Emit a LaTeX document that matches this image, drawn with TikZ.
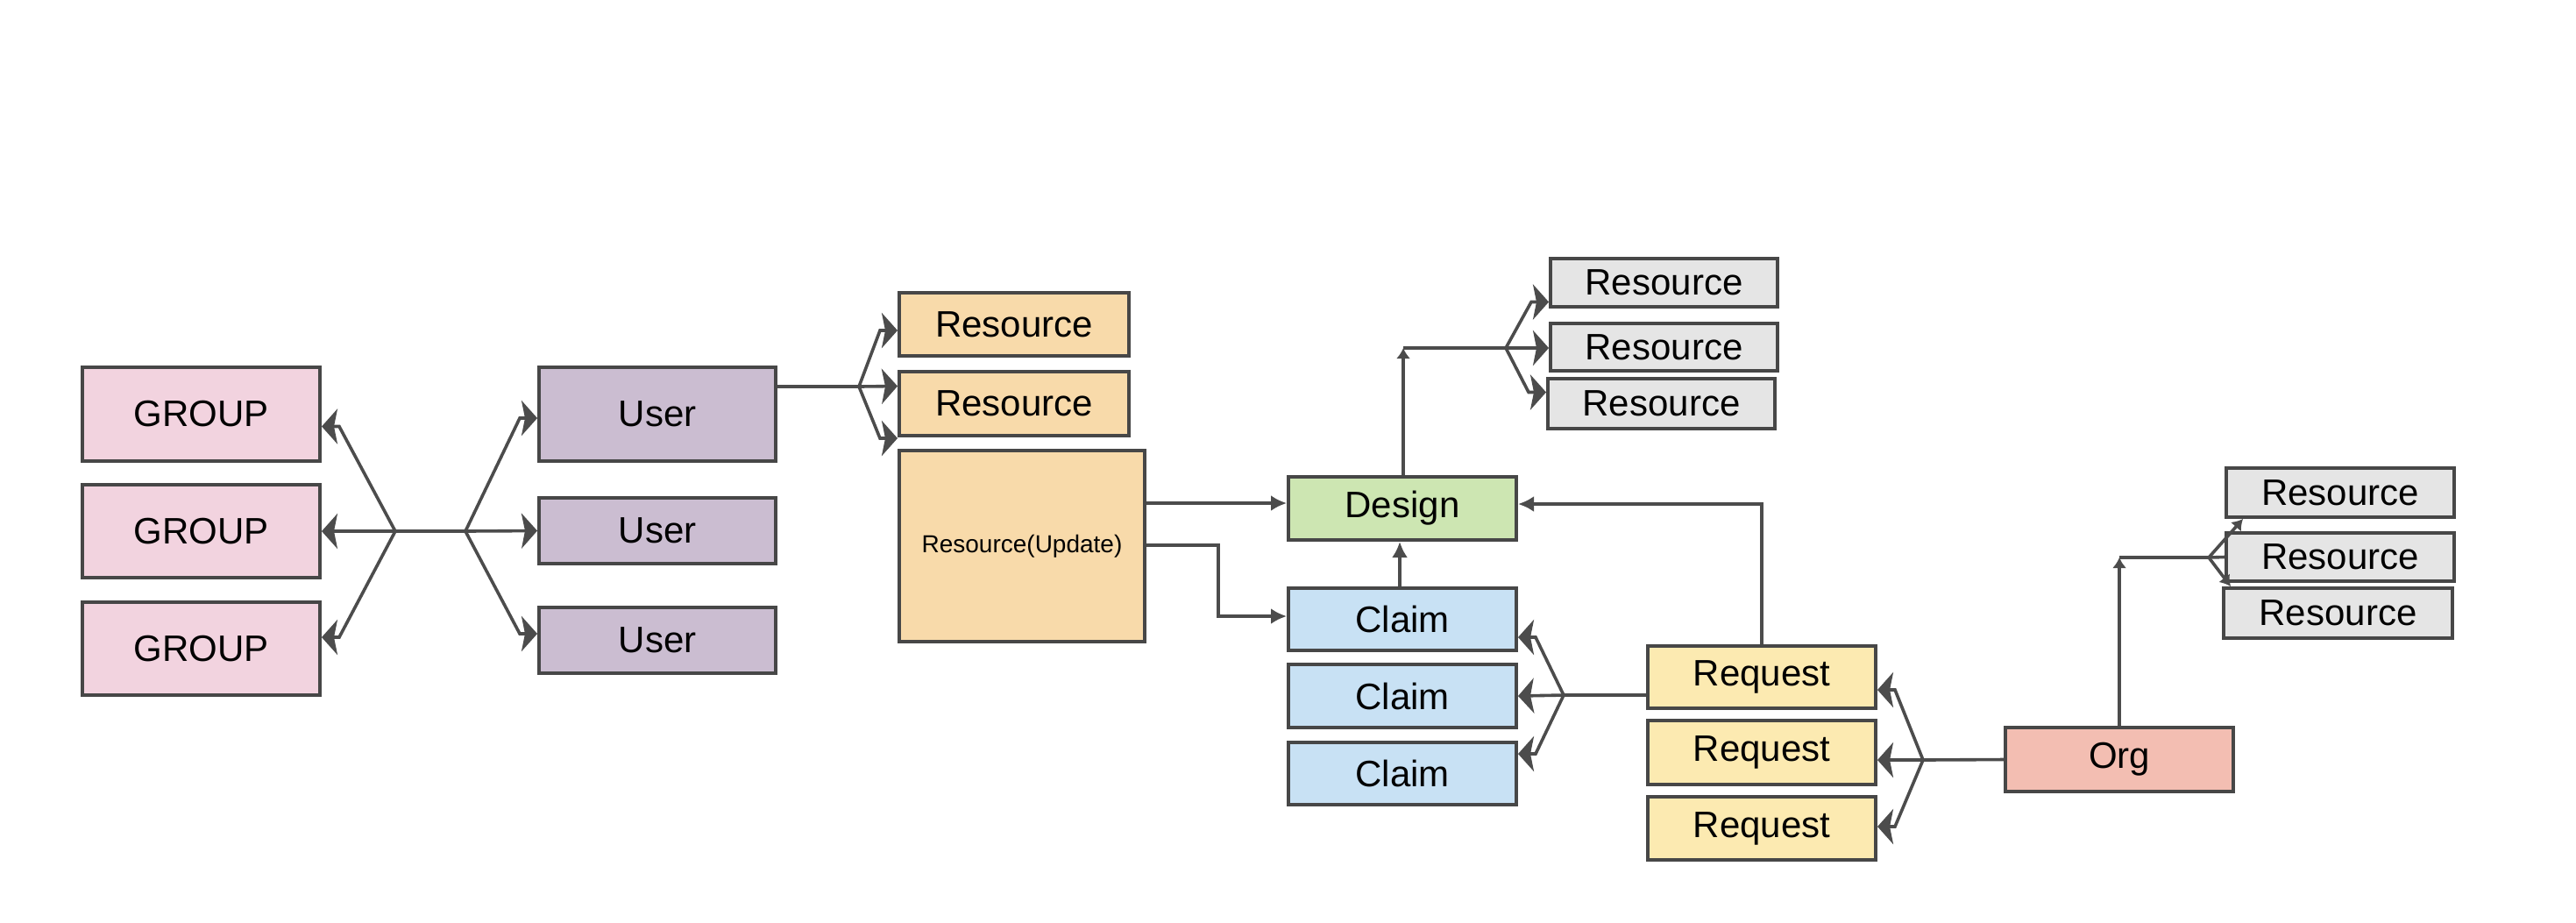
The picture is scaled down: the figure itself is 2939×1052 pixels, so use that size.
\documentclass[tikz,border=0pt]{standalone}
\usepackage{fontspec}
\setmainfont{Liberation Sans}
\usetikzlibrary{arrows.meta,calc}
\definecolor{cGroup}{RGB}{242,211,223}
\definecolor{cUser}{RGB}{203,189,209}
\definecolor{cRes}{RGB}{248,218,170}
\definecolor{cDesign}{RGB}{205,230,178}
\definecolor{cClaim}{RGB}{200,225,244}
\definecolor{cReq}{RGB}{252,234,177}
\definecolor{cOrg}{RGB}{243,190,178}
\definecolor{cGrey}{RGB}{229,229,229}
\begin{document}
\begin{tikzpicture}[x=0.25pt,y=-0.25pt,
 box/.style={draw=black!72, line width=1pt, inner sep=0pt, font=\fontsize{10.5}{12}\selectfont},
 wh/.style 2 args={minimum width=#1*0.25pt, minimum height=#2*0.25pt},
 ln/.style={draw=black!70, line width=0.9pt},
 farr/.style={ln, -{Stealth[length=4.5pt,width=10pt,inset=1pt]}},
 arr/.style={ln, -{Latex[length=4.5pt,width=4.5pt]}},
 sarr/.style={ln, -{Latex[length=3pt,width=4pt]}}]
\fill[white] (0,0) rectangle (2939,1052);
\useasboundingbox (0,0) rectangle (2939,1052);
% groups
\node[box,wh={271}{107},fill=cGroup] (G1) at (229.5,472.5) {GROUP};
\node[box,wh={271}{106},fill=cGroup] (G2) at (229.5,606) {GROUP};
\node[box,wh={271}{106},fill=cGroup] (G3) at (229.5,740) {GROUP};
% users
\node[box,wh={270}{107},fill=cUser] (U1) at (750,472.5) {User};
\node[box,wh={270}{75},fill=cUser] (U2) at (750,605.5) {User};
\node[box,wh={270}{75},fill=cUser] (U3) at (750,730.5) {User};
% orange resources
\node[box,wh={262}{72},fill=cRes] (OR1) at (1157,370) {Resource};
\node[box,wh={262}{73},fill=cRes] (OR2) at (1157,460.5) {Resource};
\node[box,wh={280}{218},fill=cRes,font=\fontsize{7}{8}\selectfont] (RU) at (1166,623) {Resource(Update)};
% design / claims
\node[box,wh={260}{72},fill=cDesign] (D) at (1600,580) {Design};
\node[box,wh={260}{71},fill=cClaim] (C1) at (1600,706.5) {Claim};
\node[box,wh={260}{72},fill=cClaim] (C2) at (1600,794) {Claim};
\node[box,wh={260}{71},fill=cClaim] (C3) at (1600,882.5) {Claim};
% requests
\node[box,wh={260}{71},fill=cReq] (Q1) at (2010,772.5) {Request};
\node[box,wh={260}{73},fill=cReq] (Q2) at (2010,858.5) {Request};
\node[box,wh={260}{72},fill=cReq] (Q3) at (2010,945) {Request};
% org
\node[box,wh={260}{73},fill=cOrg] (O) at (2418,866.5) {Org};
% grey resources (design)
\node[box,wh={259}{55},fill=cGrey] (GR1) at (1898.5,322.5) {Resource};
\node[box,wh={259}{54},fill=cGrey] (GR2) at (1898.5,396) {Resource};
\node[box,wh={259}{57},fill=cGrey] (GR3) at (1895.5,460.5) {Resource};
% grey resources (org)
\node[box,wh={260}{56},fill=cGrey] (H1) at (2670,562) {Resource};
\node[box,wh={260}{55},fill=cGrey] (H2) at (2670,635.5) {Resource};
\node[box,wh={261}{57},fill=cGrey] (H3) at (2667.5,699.5) {Resource};
% group/user fan
\coordinate (fa) at (451,606);
\coordinate (fb) at (531,606);
\draw[ln] (fa) -- (fb);
\draw[farr] (fa) -- ($(G1.east)+(20,14)$) -- ($(G1.east)+(0,14)$);
\draw[farr] (fa) -- (G2.east);
\draw[farr] (fa) -- ($(G3.east)+(20,-13)$) -- ($(G3.east)+(0,-13)$);
\draw[farr] (fb) -- ($(U1.west)+(-20,4.5)$) -- ($(U1.west)+(0,4.5)$);
\draw[farr] (fb) -- (U2.west);
\draw[farr] (fb) -- ($(U3.west)+(-20,-7.5)$) -- ($(U3.west)+(0,-7.5)$);
% user -> resources
\coordinate (fu) at (980,441);
\draw[ln] ($(U1.east)+(0,-31.5)$) -- (fu);
\draw[farr] (fu) -- ($(OR1.west)+(-20,7)$) -- ($(OR1.west)+(0,7)$);
\draw[farr] (fu) -- ($(OR2.west)+(0,-20)$);
\draw[farr] (fu) -- ($(RU.north west)+(-20,-12)$) -- ($(RU.north west)+(0,-12)$);
% resource(update) -> design / claim
\draw[arr] ($(RU.east)+(0,-49)$) -- ($(D.west)+(0,-6)$);
\draw[arr] ($(RU.east)+(0,-1)$) -| ($(C1.west)+(-78,-3.5)$) -- ($(C1.west)+(0,-3.5)$);
% claim -> design
\draw[arr] ($(C1.north)+(-3,0)$) -- ($(D.south)+(-3,0)$);
% request -> design
\draw[arr] (Q1.north) |- ($(D.east)+(0,-5)$);
% design -> grey resources
\coordinate (dc) at (1601,397);
\coordinate (fd) at (1718,397);
\draw[sarr] ($(D.north)+(1,0)$) -- (dc);
\draw[ln] (dc) -- (fd);
\draw[farr] (fd) -- ($(GR1.west)+(-20,22)$) -- ($(GR1.west)+(0,22)$);
\draw[farr] (fd) -- ($(GR2.west)+(0,1)$);
\draw[farr] (fd) -- ($(GR3.west)+(-20,-13)$) -- ($(GR3.west)+(0,-13)$);
% request -> claims
\coordinate (fq) at (1784,793);
\draw[ln] ($(Q1.west)+(0,20.5)$) -- (fq);
\draw[farr] (fq) -- ($(C1.east)+(20,20.5)$) -- ($(C1.east)+(0,20.5)$);
\draw[farr] (fq) -- (C2.east);
\draw[farr] (fq) -- ($(C3.east)+(20,-22.5)$) -- ($(C3.east)+(0,-22.5)$);
% org -> requests
\coordinate (fo) at (2194,867);
\draw[ln] (O.west) -- (fo);
\draw[farr] (fo) -- ($(Q1.east)+(20,14.5)$) -- ($(Q1.east)+(0,14.5)$);
\draw[farr] (fo) -- ($(Q2.east)+(0,8.5)$);
\draw[farr] (fo) -- ($(Q3.east)+(20,-2)$) -- ($(Q3.east)+(0,-2)$);
% org -> grey resources
\coordinate (oc) at (2418,636);
\coordinate (fg) at (2520,636);
\draw[sarr] (O.north) -- (oc);
\draw[ln] (oc) -- (fg);
\draw[sarr] (fg) -- ($(H1.south west)+(21,0)$);
\draw[ln] (fg) -- (H2.west);
\draw[sarr] (fg) -- ($(H3.north west)+(10,0)$);
\end{tikzpicture}
\end{document}
